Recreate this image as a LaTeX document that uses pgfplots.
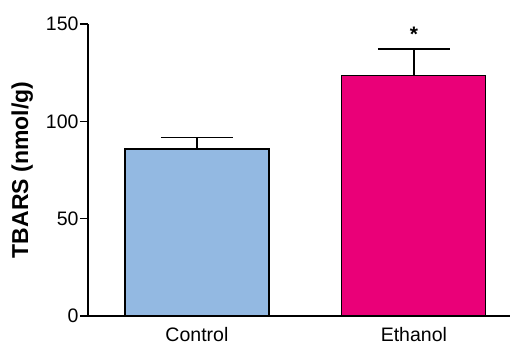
\documentclass[border=0pt]{standalone}
\usepackage{fontspec}
\setmainfont{Liberation Sans}
\usepackage{pgfplots}
\pgfplotsset{compat=1.18}
\definecolor{ctrl}{HTML}{93B9E2}
\definecolor{eth}{HTML}{EA0078}
\begin{document}
\begin{tikzpicture}
\begin{axis}[
  at={(0,0)}, anchor=south west,
  scale only axis, width=422pt, height=292pt,
  xmin=-0.502, xmax=1.443, ymin=0, ymax=150,
  axis x line=bottom, axis y line=left,
  axis line style={-, line width=1.3pt, black},
  ytick={0,50,100,150}, xtick={0,1}, xticklabels={Control,Ethanol},
  x tick style={draw=none},
  y tick style={line width=1.3pt, black},
  major tick length=8pt, tick align=outside,
  tick label style={font=\fontsize{19.5}{20}\selectfont},
  yticklabel style={xshift=2pt},
  /pgf/number format/assume math mode=true,
  ylabel={TBARS (nmol/g)},
  ylabel style={font=\fontsize{23}{24}\selectfont\bfseries, at={(axis description cs:-0.156,0.5)}, anchor=center},
  ybar, bar width=144pt,
  clip=false,
]
\addplot[fill=ctrl, draw=black, line width=1.2pt, bar shift=0pt,
  error bars/.cd, y dir=plus, y explicit, error mark=|,
  error bar style={line width=1.3pt, black},
  error mark options={mark size=36pt, line width=1.3pt, black}]
  coordinates {(0,85.8) +- (0,6.0)};
\addplot[fill=eth, draw=black, line width=1.2pt, bar shift=0pt,
  error bars/.cd, y dir=plus, y explicit, error mark=|,
  error bar style={line width=1.3pt, black},
  error mark options={mark size=36pt, line width=1.3pt, black}]
  coordinates {(1,123.6) +- (0,13.5)};
\node[font=\fontsize{21}{21}\selectfont\bfseries] at (axis cs:1,144.5) {*};
\end{axis}
\pgfresetboundingbox
\path[use as bounding box] (-88pt,-30pt) rectangle (422pt,316pt);
\end{tikzpicture}
\end{document}
